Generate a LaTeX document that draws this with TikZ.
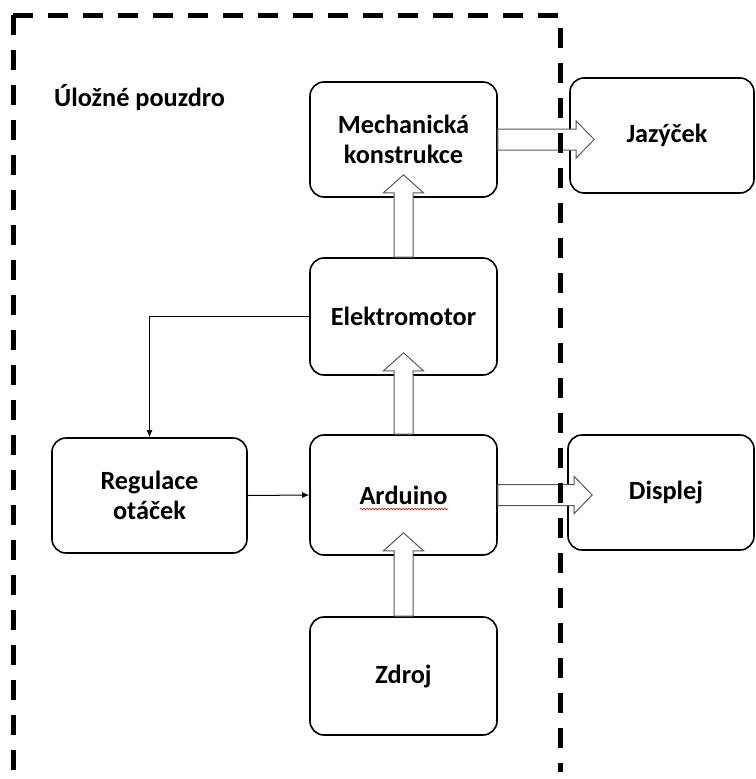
\documentclass[tikz,border=0pt]{standalone}
\usepackage{fontspec}
\setmainfont{Carlito}
\usetikzlibrary{calc,arrows.meta,decorations.pathmorphing}
\newcommand\myuparr[2]{\draw[blk] let \p1=(#1.north), \p2=(#2.south) in (\x1-9.5,\y1) -- (\x1-9.5,\y2+5) -- (\x1-20,\y2+5) -- (\x1,\y2+23) -- (\x1+20,\y2+5) -- (\x1+9.5,\y2+5) -- (\x1+9.5,\y1) -- cycle;}
\newcommand\myrarr[2]{\draw[blk] let \p1=(#1.east), \p2=(#2.west) in (\x1,\y1+10.5) -- (\x2+7,\y1+10.5) -- (\x2+7,\y1+18.5) -- (\x2+25,\y1) -- (\x2+7,\y1-18.5) -- (\x2+7,\y1-10.5) -- (\x1,\y1-10.5) -- cycle;}
\begin{document}
\begin{tikzpicture}[x=1pt,y=-1pt,
  box/.style={draw, rectangle, rounded corners=14pt, line width=1.6pt, align=center,
    font=\fontsize{26.3}{30.5}\selectfont\bfseries, inner sep=0pt},
  blk/.style={draw=black!65, fill=white, line width=1pt},
  thin/.style={line width=1pt, -{Latex[length=7pt,width=6pt]}},
  frame/.style={line width=5pt, dash pattern=on 20pt off 15pt}]
\useasboundingbox (0,0) rectangle (755,779);
\fill[white] (0,0) rectangle (755,779);
\node[box, minimum width=187pt, minimum height=115pt] (mech) at (403.5,139.5) {Mechanická\\konstrukce};
\node[box, minimum width=184pt, minimum height=115pt] (jaz) at (662,135.5) {\hspace*{10pt}Jazýček};
\node[box, minimum width=187pt, minimum height=117pt] (elek) at (403.5,316.5) {Elektromotor};
\node[box, minimum width=195pt, minimum height=115pt] (reg) at (149.5,495.5) {Regulace\\otáček};
\node[box, minimum width=187pt, minimum height=120pt] (ard) at (403.5,495) {Arduino};
\node[box, minimum width=186pt, minimum height=115pt] (disp) at (661,492.5) {\hspace*{10pt}Displej};
\node[box, minimum width=187pt, minimum height=118pt] (zdroj) at (403.5,676) {Zdroj};
\node[font=\fontsize{26.3}{30.5}\selectfont\bfseries, anchor=west, inner sep=0pt] (title) at (54,98) {Úložné pouzdro};
\draw[red, line width=0.6pt, decorate, decoration={snake,amplitude=0.8pt,segment length=3pt}]
  ($(ard.center)+(-43.5,14)$) -- ($(ard.center)+(44.5,14)$);
\myuparr{zdroj}{ard}
\myuparr{ard}{elek}
\myuparr{elek}{mech}
\myrarr{mech}{jaz}
\myrarr{ard}{disp}
\draw[thin] (elek.west) -| (reg.north);
\draw[thin] (reg.east) -- (ard.west);
\draw[frame] (13,15) -- (13,772);
\draw[frame] (13,15) -- (560,15) -- (560,772);
\end{tikzpicture}
\end{document}
